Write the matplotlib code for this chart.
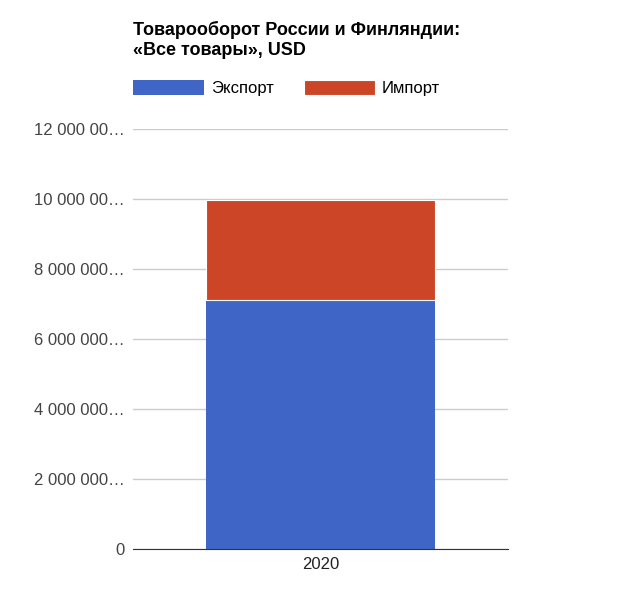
import matplotlib
matplotlib.use("Agg")
import matplotlib.pyplot as plt

categories = ["2020"]
export_vals = [7110000]
import_vals = [2860000]
yticks = [0, 2e6, 4e6, 6e6, 8e6, 10e6, 12e6]
ytick_labels = ["0", "2 000 000…", "4 000 000…", "6 000 000…", "8 000 000…", "10 000 00…", "12 000 00…"]

plt.rcParams['font.family'] = ['Liberation Sans', 'DejaVu Sans']
fig = plt.figure(figsize=(6.4, 6.0), dpi=100)
ax = fig.add_axes([133/640, 51/600, 375/640, 420/600])
x = range(len(categories))
ax.bar(x, export_vals, width=0.613, color="#3f66c6", label="Экспорт")
ax.bar(x, import_vals, bottom=export_vals, width=0.613, color="#cc4526", label="Импорт",
       edgecolor="white", linewidth=0.8)
ax.set_xlim(-0.5, 0.5)
ax.set_ylim(0, 12e6)
ax.set_yticks(yticks)
ax.set_yticklabels(ytick_labels, fontsize=12, color="#444444")
ax.set_xticks(list(x))
ax.set_xticklabels(categories, fontsize=12, color="#222222")
ax.grid(axis="y", color="#cccccc", linewidth=1)
ax.set_axisbelow(True)
for s in ["top", "right", "left"]:
    ax.spines[s].set_visible(False)
ax.spines["bottom"].set_color("#333333")
ax.tick_params(length=0, pad=6)
fig.text(133/640, 1 - 40/600, "Товарооборот России и Финляндии:\n«Все товары», USD",
         fontsize=13, fontweight="bold", va="center", ha="left", linespacing=1.3)
fig.legend(loc="upper left", bbox_to_anchor=(126/640, 1 - 73/600), ncol=2, frameon=False,
           fontsize=12, handlelength=4.3, handleheight=1.0, handletextpad=0.4,
           columnspacing=1.8, borderaxespad=0)
fig.savefig("out.png", dpi=100)
